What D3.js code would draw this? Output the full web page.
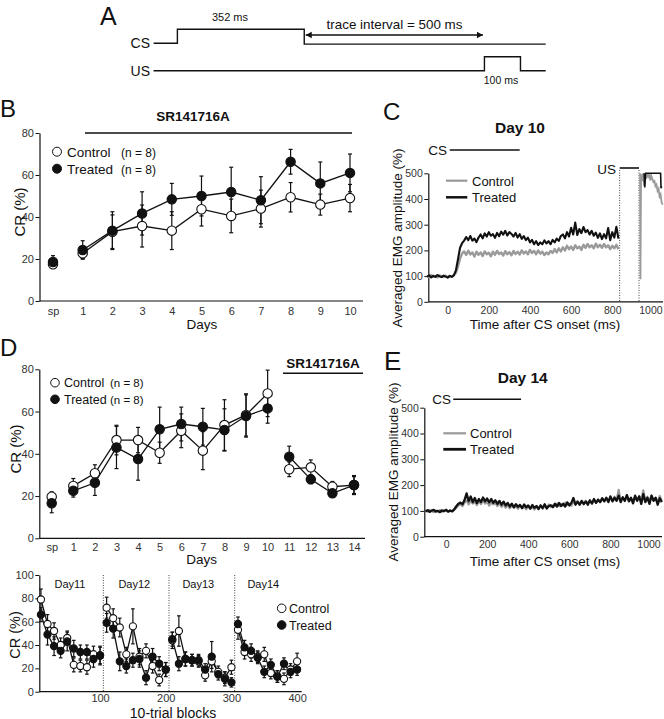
<!DOCTYPE html>
<html><head><meta charset="utf-8">
<script src="https://cdn.jsdelivr.net/npm/d3@7"></script>
<style>
html,body{margin:0;padding:0;background:#fff;}
svg{display:block;}
</style></head><body>
<div id="chart"></div>
<script>
// ---------------- DATA ----------------
// Panel A (schematic, ms)
const csPulse = [0, 352];
const usPulse = [852, 952];
const traceInterval = [352, 852];
const schematicSpan = [-66, 1022];

// Panel B
const dayCatsB = ["sp","1","2","3","4","5","6","7","8","9","10"];
const bControl    = [17.5, 22.7, 33, 35.7, 33.5, 43.7, 40.5, 44, 49.4, 45.9, 49];
const bControlErr = [2, 2.5, 8, 10, 9, 8, 8, 8.8, 7, 5, 6.5];
const bTreated    = [18.6, 24.3, 33.5, 41.7, 48.4, 50, 51.9, 48, 66.3, 56, 61];
const bTreatedErr = [3, 4.4, 9, 10.3, 7.6, 9.5, 11.8, 11.2, 5.9, 10.2, 9];
const crTicks = [0, 20, 40, 60, 80];

// Panel D
const dayCatsD = ["sp","1","2","3","4","5","6","7","8","9","10","11","12","13","14"];
const dControl    = [19.7, 24.8, 30.8, 46.5, 46.5, 40.5, 50.9, 41.5, 53.6, 58.4, 68.6, 32.7, 33.6, 24.4, 25.2];
const dControlErr = [2.3, 3.5, 4, 7, 6, 5, 8, 9, 12, 10, 11, 3.5, 3.5, 2.5, 4.5];
const dTreated    = [16.6, 22.5, 26.3, 43, 37.5, 51.6, 54.1, 52.8, 51.3, 57.9, 61.5, 38.6, 27.9, 21.3, 25.2];
const dTreatedErr = [4.5, 3, 6, 10, 10, 10.5, 8, 8.7, 10, 10, 7, 5, 2, 1.5, 4];

// Panel D bottom (10-trial blocks)
const blocks = [10,20,30,40,50,60,70,80,90,100, 110,120,130,140,150,160,170,180,190,200,
                210,220,230,240,250,260,270,280,290,300, 310,320,330,340,350,360,370,380,390,400];
const blkControl = [79,58,52,40,46,23,22,21,32,31, 72,63,55,32,56,30,35,22,10,19,
                    44,52,28,27,26,14,26,17,12,21, 53,34,32,30,32,16,13,11,19,26];
const blkControlErr = [9,8,7,6,6,6,5,6,7,8, 9,8,8,6,15,7,6,6,5,6,
                       7,13,6,5,5,5,6,5,5,6, 8,6,6,5,6,5,5,5,5,7];
const blkTreated = [66,49,39,35,43,37,34,34,28,31, 59,54,26,22,27,28,12,30,24,19,
                    45,24,28,27,27,19,30,15,11,8, 58,38,35,29,17,23,13,24,17,19];
const blkTreatedErr = [6,9,8,6,8,7,6,6,7,7, 8,8,8,6,6,7,6,7,6,6,
                       6,6,6,5,5,5,13,5,6,4, 6,6,6,5,5,5,5,5,5,5];
const dayBoundaries = [105, 205, 305];
const dayLabels = ["Day11","Day12","Day13","Day14"];
const blockTicks = [100, 200, 300, 400];
const blockYTicks = [0, 20, 40, 60, 80, 100];

// Panel C (Day 10) EMG traces, sampled every 10 ms from -100 ms
const cT0 = -100, cStep = 10;
const cControl = [100,96,104,98,101,95,103,99,97,102,96,100,98,104,
  112,138,168,188,196,182,199,184,192,176,
  195,183,192,178,196,185,191,177,195,183,
  198,186,192,180,197,185,193,181,198,186,
  195,184,200,188,196,185,202,190,198,185,
  200,187,195,182,192,185,198,190,205,192,
  208,196,212,200,218,205,215,202,220,208,
  215,202,222,210,225,212,220,208,226,212,
  222,210,225,212,220,205,218,208,222,205];
const cTreated = [98,103,95,101,97,104,99,96,102,98,94,101,97,103,
  122,165,210,228,238,252,240,256,238,246,
  232,250,262,247,266,254,271,257,263,249,
  268,255,273,261,276,258,271,264,254,268,
  250,263,245,256,240,250,231,241,224,236,
  221,231,224,239,227,236,224,241,231,246,
  237,256,262,247,271,254,288,262,308,260,
  283,267,291,271,279,262,276,257,269,249,
  266,244,263,247,287,240,271,250,292,246];
const cPostControlT = [935,937,940,945,950,955,960,965,970,975,980,985,990,995,1000,1005,1010,1015,1020,1025,1030,1035,1040,1045];
const cPostControl  = [500,88,496,470,500,452,495,478,500,488,500,472,490,478,466,470,450,456,432,440,410,418,386,378];
const cPostTreatedT = [955,958,962,965,970,980,990,1000,1010,1020,1030,1035,1037,1040];
const cPostTreated  = [500,445,500,500,500,500,500,500,500,500,500,500,442,450];
const usWindowC = [836, 930];
const csBarC = [10, 350];

// Panel E (Day 14)
const eT0 = -100, eStep = 10;
const eControl = [101,97,104,99,95,102,98,103,96,100,105,97,102,99,
  104,112,120,126,118,132,140,125,138,128,
  135,122,138,126,140,128,135,120,132,125,
  130,118,128,115,125,112,122,110,120,112,
  118,108,120,110,116,106,118,108,115,105,
  118,110,122,108,120,112,125,115,122,118,
  128,118,126,120,132,122,128,120,135,125,
  138,126,135,125,140,130,138,128,142,132,
  145,135,148,138,150,140,152,138,155,142,
  182,140,152,138,162,142,150,135,155,140,
  158,145,180,138,155,140,160,142,150,135,
  158,140];
const eTreated = [98,103,96,101,104,97,100,95,102,99,104,97,101,98,
  106,118,128,132,126,142,168,138,156,134,
  150,130,146,134,152,137,148,133,146,131,
  141,127,139,124,136,121,131,117,128,114,
  126,116,123,111,125,114,121,109,123,112,
  119,107,121,111,126,109,119,122,114,128,
  117,131,119,128,117,133,121,131,150,124,
  136,124,139,127,136,124,141,129,146,131,
  143,134,149,137,151,134,156,137,151,139,
  159,134,153,139,161,137,151,129,159,139,
  156,127,165,134,151,127,159,139,151,124,
  149,134];
const csBarE = [35, 365];
const emgTicks = [0, 100, 200, 300, 400, 500];
const timeTicks = [0, 200, 400, 600, 800, 1000];

// ---------------- DRAWING ----------------
const FONT = '"Liberation Sans", Arial, Helvetica, sans-serif';
const GRAY = '#9a9a9a';
const svg = d3.select('#chart').append('svg')
  .attr('width', 664).attr('height', 719)
  .attr('font-family', FONT);

function text(x, y, s, o = {}) {
  return svg.append('text').attr('x', x).attr('y', y).text(s)
    .attr('font-size', o.size || 13)
    .attr('font-weight', o.bold ? 'bold' : null)
    .attr('text-anchor', o.anchor || 'start')
    .attr('fill', o.fill || '#111')
    .attr('transform', o.rotate ? `rotate(-90,${x},${y})` : null);
}
function styleAxis(a, fs) {
  a.attr('font-family', FONT);
  a.select('.domain').attr('stroke', '#111').attr('stroke-width', 1.2);
  a.selectAll('.tick line').attr('stroke', '#111').attr('stroke-width', 1);
  a.selectAll('.tick text').attr('font-size', fs || 11).attr('fill', '#333');
}
function yAxis(scale, x, ticks, fs) {
  const a = svg.append('g').attr('transform', `translate(${x},0)`)
    .call(d3.axisLeft(scale).tickValues(ticks).tickSize(4).tickSizeOuter(0).tickPadding(1.5).tickFormat(d3.format('d')));
  styleAxis(a, fs);
}
function xAxis(scale, y, ticks, x0, x1, pad, fs) {
  const ax = d3.axisBottom(scale).tickSize(0).tickSizeOuter(0).tickPadding(pad);
  if (ticks) ax.tickValues(ticks).tickFormat(d3.format('d'));
  const a = svg.append('g').attr('transform', `translate(0,${y})`).call(ax);
  a.select('.domain').attr('d', `M${x0},0H${x1}`);
  styleAxis(a, fs);
  return a;
}
function errorBars(xs, ys, keys, vals, errs, cap) {
  const g = svg.append('g').attr('stroke', '#111').attr('stroke-width', 1.2);
  vals.forEach((v, i) => {
    const x = xs(keys[i]), y0 = ys(v - errs[i]), y1 = ys(v + errs[i]);
    g.append('line').attr('x1', x).attr('x2', x).attr('y1', y0).attr('y2', y1);
    g.append('line').attr('x1', x - cap).attr('x2', x + cap).attr('y1', y0).attr('y2', y0);
    g.append('line').attr('x1', x - cap).attr('x2', x + cap).attr('y1', y1).attr('y2', y1);
  });
}
function seriesLines(xs, ys, keys, vals, segs) {
  const line = d3.line().x(d => xs(d.k)).y(d => ys(d.v));
  segs.forEach(([a, b]) => {
    const pts = [];
    for (let i = a; i <= b; i++) pts.push({k: keys[i], v: vals[i]});
    svg.append('path').datum(pts).attr('d', line)
      .attr('fill', 'none').attr('stroke', '#111').attr('stroke-width', 1.3);
  });
}
function dots(xs, ys, keys, vals, r, filled) {
  svg.append('g').selectAll('circle').data(vals).join('circle')
    .attr('cx', (d, i) => xs(keys[i])).attr('cy', d => ys(d)).attr('r', r)
    .attr('fill', filled ? '#111' : '#fff').attr('stroke', '#111').attr('stroke-width', 1.1);
}

// ---- Panel A ----
text(100, 25, 'A', {size: 25});
const ax = d3.scaleLinear().domain(schematicSpan).range([153.6, 545.7]);
const csLow = 43.3, csHigh = 29.3, usLow = 70.7, usHigh = 56.7;
svg.append('path').attr('d',
  `M${ax(schematicSpan[0])},${csLow}H${ax(csPulse[0])}V${csHigh}H${ax(csPulse[1])}V${csLow + 0.8}H${ax(schematicSpan[1])}`)
  .attr('fill', 'none').attr('stroke', '#111').attr('stroke-width', 1.4);
svg.append('path').attr('d',
  `M${ax(schematicSpan[0])},${usLow}H${ax(usPulse[0])}V${usHigh}H${ax(usPulse[1])}V${usLow}H${ax(schematicSpan[1])}`)
  .attr('fill', 'none').attr('stroke', '#111').attr('stroke-width', 1.4);
{
  const xa = ax(traceInterval[0]) + 1.5, xb = ax(traceInterval[1]) - 1.5, y = 35;
  svg.append('line').attr('x1', xa).attr('x2', xb).attr('y1', y).attr('y2', y)
    .attr('stroke', '#111').attr('stroke-width', 1.3);
  svg.append('path').attr('d', `M${xa},${y}l6,-3.2v6.4z`).attr('fill', '#111');
  svg.append('path').attr('d', `M${xb},${y}l-6,-3.2v6.4z`).attr('fill', '#111');
}
text(150, 48, 'CS', {size: 14, anchor: 'end'});
text(150, 75.5, 'US', {size: 14, anchor: 'end'});
text(230, 20.5, '352 ms', {size: 11, anchor: 'middle'});
text(394.5, 28.5, 'trace interval = 500 ms', {size: 13.4, anchor: 'middle'});
text(501, 84, '100 ms', {size: 10.5, anchor: 'middle'});

// ---- Panel B ----
text(0, 117, 'B', {size: 24});
text(193, 121, 'SR141716A', {size: 13.5, bold: true, anchor: 'middle'});
svg.append('line').attr('x1', 85).attr('x2', 352).attr('y1', 133).attr('y2', 133)
  .attr('stroke', '#111').attr('stroke-width', 1.6);
const bx = d3.scalePoint().domain(dayCatsB).range([53, 350]);
const by = d3.scaleLinear().domain([0, 80]).range([301, 133]);
yAxis(by, 39.5, crTicks);
xAxis(bx, 301, null, 39.5, 363, 6.5);
text(202, 329, 'Days', {size: 13.5, anchor: 'middle'});
text(25, 212, 'CR (%)', {size: 15, anchor: 'middle', rotate: true});
errorBars(bx, by, dayCatsB, bControl, bControlErr, 2);
errorBars(bx, by, dayCatsB, bTreated, bTreatedErr, 2);
seriesLines(bx, by, dayCatsB, bControl, [[1, 10]]);
seriesLines(bx, by, dayCatsB, bTreated, [[1, 10]]);
dots(bx, by, dayCatsB, bControl, 4.7, false);
dots(bx, by, dayCatsB, bTreated, 4.7, true);
svg.append('circle').attr('cx', 57).attr('cy', 151.7).attr('r', 4.5).attr('fill', '#fff').attr('stroke', '#111');
svg.append('circle').attr('cx', 57).attr('cy', 168.7).attr('r', 4.5).attr('fill', '#111').attr('stroke', '#111');
text(67, 156.5, 'Control', {size: 13.5});
text(121, 156.5, '(n = 8)', {size: 12});
text(67, 173.5, 'Treated', {size: 13.5});
text(121, 173.5, '(n = 8)', {size: 12});

// ---- Panel C ----
text(383, 120, 'C', {size: 24});
text(520, 133, 'Day 10', {size: 15.5, bold: true, anchor: 'middle'});
const cx = d3.scaleLinear().domain([-100, 1050]).range([427.1, 663.7]);
const cy = d3.scaleLinear().domain([0, 500]).range([301.8, 173.3]);
yAxis(cy, 428.3, emgTicks, 10.5);
const cxa = xAxis(cx, 301.8, timeTicks, 428.3, 663, 4.5, 10.5);
cxa.selectAll('.tick text').filter(d => d === 1000).attr('dx', -3);
text(545, 329, 'Time after CS onset (ms)', {size: 13.5, anchor: 'middle'});
text(402, 238, 'Averaged EMG amplitude (%)', {size: 13.5, anchor: 'middle', rotate: true});
svg.append('g').selectAll('line').data(usWindowC).join('line')
  .attr('x1', d => cx(d)).attr('x2', d => cx(d)).attr('y1', 170).attr('y2', 301.8)
  .attr('stroke', '#444').attr('stroke-width', 1).attr('stroke-dasharray', '1,1.5');
const trace = (xs, ys) => d3.line().x(d => xs(d.t)).y(d => ys(Math.min(d.v, 500)));
const grid = (t0, step, vals) => vals.map((v, i) => ({t: t0 + i * step, v}));
const pairs = (ts, vals) => vals.map((v, i) => ({t: ts[i], v}));
svg.append('path').datum(grid(cT0, cStep, cControl)).attr('d', trace(cx, cy))
  .attr('fill', 'none').attr('stroke', GRAY).attr('stroke-width', 2.4).attr('stroke-linejoin', 'round');
svg.append('path').datum(grid(cT0, cStep, cTreated)).attr('d', trace(cx, cy))
  .attr('fill', 'none').attr('stroke', '#111').attr('stroke-width', 2.1).attr('stroke-linejoin', 'round');
svg.append('path').datum(pairs(cPostControlT, cPostControl)).attr('d', trace(cx, cy))
  .attr('fill', 'none').attr('stroke', GRAY).attr('stroke-width', 1.8);
svg.append('path').datum(pairs(cPostTreatedT, cPostTreated)).attr('d', trace(cx, cy))
  .attr('fill', 'none').attr('stroke', '#111').attr('stroke-width', 1.6);
text(447, 155, 'CS', {size: 13.5, anchor: 'end'});
svg.append('line').attr('x1', cx(csBarC[0])).attr('x2', cx(csBarC[1])).attr('y1', 150).attr('y2', 150)
  .attr('stroke', '#111').attr('stroke-width', 1.6);
text(616, 174, 'US', {size: 13.5, anchor: 'end'});
svg.append('line').attr('x1', cx(usWindowC[0])).attr('x2', cx(usWindowC[1])).attr('y1', 168).attr('y2', 168)
  .attr('stroke', '#111').attr('stroke-width', 1.6);
svg.append('line').attr('x1', 446).attr('x2', 467.3).attr('y1', 180.7).attr('y2', 180.7).attr('stroke', GRAY).attr('stroke-width', 2.2);
svg.append('line').attr('x1', 446).attr('x2', 467.3).attr('y1', 197.3).attr('y2', 197.3).attr('stroke', '#111').attr('stroke-width', 2.5);
text(472, 185.5, 'Control', {size: 13});
text(472, 202, 'Treated', {size: 13});

// ---- Panel D ----
text(0, 356, 'D', {size: 24});
text(323, 368, 'SR141716A', {size: 13.5, bold: true, anchor: 'middle'});
svg.append('line').attr('x1', 283).attr('x2', 363).attr('y1', 373.3).attr('y2', 373.3)
  .attr('stroke', '#111').attr('stroke-width', 1.6);
const dx = d3.scalePoint().domain(dayCatsD).range([51.7, 354]);
const dy = d3.scaleLinear().domain([0, 80]).range([538.3, 369.3]);
yAxis(dy, 39.3, crTicks);
xAxis(dx, 538.3, null, 39.3, 365, 4.5);
text(201.7, 564, 'Days', {size: 13.5, anchor: 'middle'});
text(21, 449, 'CR (%)', {size: 15, anchor: 'middle', rotate: true});
errorBars(dx, dy, dayCatsD, dControl, dControlErr, 2);
errorBars(dx, dy, dayCatsD, dTreated, dTreatedErr, 2);
seriesLines(dx, dy, dayCatsD, dControl, [[1, 10], [11, 14]]);
seriesLines(dx, dy, dayCatsD, dTreated, [[1, 10], [11, 14]]);
dots(dx, dy, dayCatsD, dControl, 4.7, false);
dots(dx, dy, dayCatsD, dTreated, 4.7, true);
svg.append('circle').attr('cx', 55).attr('cy', 382.7).attr('r', 4.3).attr('fill', '#fff').attr('stroke', '#111');
svg.append('circle').attr('cx', 55).attr('cy', 399.3).attr('r', 4.3).attr('fill', '#111').attr('stroke', '#111');
text(64, 387.3, 'Control', {size: 12.5});
text(110, 387.3, '(n = 8)', {size: 11.5});
text(64, 404, 'Treated', {size: 12.5});
text(110, 404, '(n = 8)', {size: 11.5});

// ---- Panel D bottom ----
const kx = d3.scaleLinear().domain([7.5, 407]).range([39.3, 301.7]);
const ky = d3.scaleLinear().domain([0, 100]).range([691.7, 575]);
svg.append('g').selectAll('line').data(dayBoundaries).join('line')
  .attr('x1', d => kx(d)).attr('x2', d => kx(d)).attr('y1', 575).attr('y2', 691.7)
  .attr('stroke', '#444').attr('stroke-width', 1).attr('stroke-dasharray', '1,1.5');
yAxis(ky, 39.3, blockYTicks);
xAxis(kx, 691.7, blockTicks, 39.3, 301.7, 3, 11);
text(173, 717.5, '10-trial blocks', {size: 14, anchor: 'middle'});
text(20, 635, 'CR (%)', {size: 14.5, anchor: 'middle', rotate: true});
[70, 134.3, 198.3, 263.3].forEach((x, i) => text(x, 588, dayLabels[i], {size: 11, anchor: 'middle'}));
errorBars(kx, ky, blocks, blkControl, blkControlErr, 1.8);
errorBars(kx, ky, blocks, blkTreated, blkTreatedErr, 1.8);
const blockSegs = [[0, 9], [10, 19], [20, 29], [30, 39]];
seriesLines(kx, ky, blocks, blkControl, blockSegs);
seriesLines(kx, ky, blocks, blkTreated, blockSegs);
dots(kx, ky, blocks, blkControl, 3.6, false);
dots(kx, ky, blocks, blkTreated, 3.6, true);
svg.append('circle').attr('cx', 281.7).attr('cy', 608.3).attr('r', 4.3).attr('fill', '#fff').attr('stroke', '#111');
svg.append('circle').attr('cx', 281.7).attr('cy', 625).attr('r', 4.3).attr('fill', '#111').attr('stroke', '#111');
text(289, 612.8, 'Control', {size: 12.5});
text(289, 629.5, 'Treated', {size: 12.5});

// ---- Panel E ----
text(384, 370, 'E', {size: 26});
text(522.7, 382.7, 'Day 14', {size: 15.5, bold: true, anchor: 'middle'});
const ex = d3.scaleLinear().domain([-100, 1050]).range([425.5, 661.8]);
const ey = d3.scaleLinear().domain([0, 500]).range([536.7, 407.7]);
yAxis(ey, 424.3, emgTicks, 10.5);
const exa = xAxis(ex, 536.7, timeTicks, 424.3, 662, 4, 10.5);
exa.selectAll('.tick text').filter(d => d === 1000).attr('dx', -3);
text(545, 566, 'Time after CS onset (ms)', {size: 13.5, anchor: 'middle'});
text(398, 472, 'Averaged EMG amplitude (%)', {size: 13.5, anchor: 'middle', rotate: true});
svg.append('path').datum(grid(eT0, eStep, eControl)).attr('d', trace(ex, ey))
  .attr('fill', 'none').attr('stroke', GRAY).attr('stroke-width', 2.1).attr('stroke-linejoin', 'round');
svg.append('path').datum(grid(eT0, eStep, eTreated)).attr('d', trace(ex, ey))
  .attr('fill', 'none').attr('stroke', '#111').attr('stroke-width', 2.3).attr('stroke-linejoin', 'round');
text(451, 404, 'CS', {size: 13.5, anchor: 'end'});
svg.append('line').attr('x1', ex(csBarE[0])).attr('x2', ex(csBarE[1])).attr('y1', 399.3).attr('y2', 399.3)
  .attr('stroke', '#111').attr('stroke-width', 1.6);
svg.append('line').attr('x1', 443.3).attr('x2', 466).attr('y1', 433.3).attr('y2', 433.3).attr('stroke', GRAY).attr('stroke-width', 2.2);
svg.append('line').attr('x1', 443.3).attr('x2', 466).attr('y1', 449.3).attr('y2', 449.3).attr('stroke', '#111').attr('stroke-width', 2.8);
text(470, 438, 'Control', {size: 13});
text(470, 454, 'Treated', {size: 13});
</script>
</body></html>
